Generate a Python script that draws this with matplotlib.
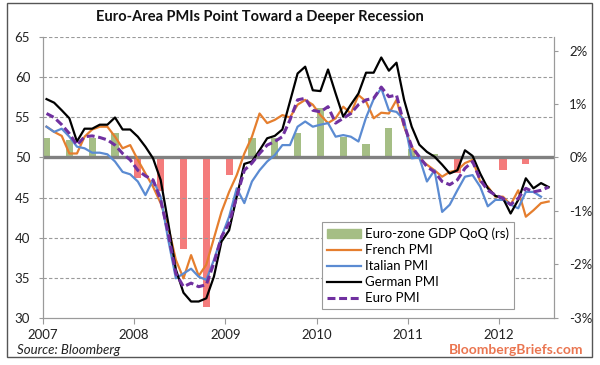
import numpy as np
import matplotlib.pyplot as plt
from matplotlib.patches import Rectangle, Patch
from matplotlib.lines import Line2D

plt.rcParams['font.family'] = ['Lato', 'DejaVu Sans']

# monthly PMI readings, Jan 2007 - Jul 2012
years = ['2007', '2008', '2009', '2010', '2011', '2012']

german = [57.3, 56.85, 55.9, 54.9, 52.0, 53.6, 53.6, 54.1, 54.1, 55.0, 53.5, 53.5,
          52.6, 51.35, 49.9, 47.2, 41.8, 36.0, 33.1, 32.0, 32.0, 32.4, 35.1, 39.5,
          40.9, 45.1, 49.2, 49.5, 50.9, 52.4, 52.7, 53.5, 57.0, 60.5, 61.35, 58.4,
          58.3, 61.0, 58.0, 55.1, 56.6, 58.0, 60.6, 60.6, 62.5, 60.85, 61.85, 57.2,
          53.85, 51.6, 50.7, 50.1, 49.1, 48.0, 48.4, 50.9, 50.2, 48.0, 46.15, 45.2,
          44.9, 43.0, 44.7, 47.4, 46.15, 46.8, 46.3]
french = [53.85, 53.2, 52.7, 50.5, 50.5, 52.6, 53.5, 53.85, 53.85, 52.6, 51.15, 51.55,
          49.7, 48.0, 46.35, 44.3, 41.35, 37.2, 34.9, 37.8, 35.2, 36.6, 39.9, 43.2,
          45.7, 47.8, 50.5, 52.6, 55.5, 54.3, 54.7, 55.3, 55.0, 56.6, 57.2, 56.6,
          55.3, 54.3, 54.9, 56.35, 55.5, 57.8, 57.0, 54.9, 55.6, 55.5, 57.2, 53.85,
          51.35, 49.9, 49.1, 48.4, 47.6, 48.2, 48.4, 49.3, 49.7, 47.0, 46.35, 45.1,
          45.1, 44.1, 45.9, 42.6, 43.4, 44.3, 44.5]
italian = [53.85, 53.2, 53.6, 52.6, 51.35, 51.15, 50.6, 50.6, 50.4, 49.5, 48.2, 47.9,
           47.0, 45.3, 47.2, 45.1, 39.7, 34.9, 35.5, 36.1, 35.1, 34.7, 37.2, 40.1,
           42.6, 46.15, 44.3, 47.0, 48.4, 49.5, 50.3, 51.55, 51.55, 53.85, 54.5, 53.85,
           54.1, 54.3, 52.6, 52.8, 52.6, 52.0, 55.0, 57.3, 58.65, 55.9, 55.7, 54.7,
           49.9, 50.0, 47.0, 48.4, 43.2, 44.1, 45.9, 47.6, 47.8, 46.35, 43.9, 44.7,
           44.7, 44.1, 43.65, 45.7, 45.7, 45.1]
euro = [55.5, 55.0, 54.1, 53.0, 51.55, 52.6, 52.7, 52.5, 52.2, 51.55, 50.5, 49.7,
        48.4, 47.7, 47.2, 44.7, 40.5, 35.5, 33.85, 34.3, 33.85, 34.1, 36.8, 40.1,
        41.8, 45.1, 48.4, 49.3, 50.5, 51.55, 52.0, 52.6, 54.7, 57.2, 57.4, 55.9,
        55.7, 56.35, 54.3, 54.9, 55.5, 56.6, 57.2, 57.4, 58.8, 57.6, 57.8, 54.1,
        51.35, 50.1, 48.85, 48.2, 47.0, 46.6, 47.2, 48.65, 49.5, 47.2, 45.9, 45.3,
        44.9, 44.1, 44.9, 46.15, 45.7, 45.9, 46.3]

# euro-zone GDP, % QoQ, one bar every 3 months
gdp = [0.36, 0.32, 0.36, 0.45, -0.38, -0.62, -1.72, -2.81, -0.33, 0.36, 0.36,
       0.46, 0.93, 0.38, 0.25, 0.56, 0.15, 0.06, -0.30, 0.0, -0.24, -0.12]

GREEN = '#A5BE85'
RED = '#F47C7C'
ORANGE = '#E57E2E'
BLUE = '#5B8BD2'
PURPLE = '#7030A0'
DASH = (0, (2.6, 1.2))

fig = plt.figure(figsize=(6, 3.65), dpi=100)
ax = fig.add_axes([0.0712, 0.1301, 0.8521, 0.7672])
ax2 = ax.twinx()
ax.set_zorder(ax2.get_zorder() + 1)
ax.patch.set_visible(False)

# bars on right axis
bx = np.arange(len(gdp)) * 3 + 0.5
bcol = [GREEN if v >= 0 else RED for v in gdp]
ax2.bar(bx, gdp, width=0.95, color=bcol, zorder=1)
ax2.set_ylim(-3, 2.25)
ax2.set_yticks([-3, -2, -1, 0, 1, 2])
ax2.set_yticklabels(['-3%', '-2%', '-1%', '0%', '1%', '2%'])

# grid and zero line
for v in [35, 40, 45, 55, 60, 65]:
    ax.axhline(v, color='#9A9A9A', lw=0.8, ls=(0, (3, 2)), zorder=1)
ax.axhline(50, color='#808080', lw=2.4, zorder=2)

def xs(series):
    return np.arange(len(series)) + 0.5

ax.plot(xs(french), french, color=ORANGE, lw=1.6, zorder=3)
ax.plot(xs(italian), italian, color=BLUE, lw=1.6, zorder=3)
ax.plot(xs(german), german, color='black', lw=1.6, zorder=4)
ax.plot(xs(euro), euro, color=PURPLE, lw=2.2, ls=DASH, zorder=5)

ax.set_xlim(0, 67.2)
ax.set_ylim(30, 65)
ax.set_yticks([30, 35, 40, 45, 50, 55, 60, 65])
ax.set_xticks(np.arange(len(years)) * 12)
ax.set_xticklabels(years)

for a in (ax, ax2):
    for s in a.spines.values():
        s.set_color('#9A9A9A')
        s.set_linewidth(0.8)
    a.spines['top'].set_visible(False)
    a.tick_params(colors='#9A9A9A', labelcolor='#222222', labelsize=9.5, length=3, width=0.8)
ax.tick_params(axis='y', pad=6)
ax.tick_params(axis='x', pad=4, length=4)
ax2.tick_params(axis='y', pad=8)

handles = [Patch(color=GREEN),
           Line2D([], [], color=ORANGE, lw=1.6),
           Line2D([], [], color=BLUE, lw=1.6),
           Line2D([], [], color='black', lw=1.6),
           Line2D([], [], color=PURPLE, lw=2.2, ls=DASH)]
labels = ['Euro-zone GDP QoQ (rs)', 'French PMI', 'Italian PMI', 'German PMI', 'Euro PMI']
leg = ax.legend(handles, labels, loc='lower left', bbox_to_anchor=(0.5457, 0.029),
                borderaxespad=0, fontsize=9.5, handlelength=2.6, handleheight=0.6,
                handletextpad=0.25, labelspacing=0.3, borderpad=0.4,
                fancybox=False, framealpha=1, edgecolor='#9A9A9A')
leg.get_frame().set_linewidth(0.8)

fig.text(0.433, 0.953, 'Euro-Area PMIs Point Toward a Deeper Recession',
         ha='center', va='center', fontsize=10.5, fontweight='bold', color='#111111')
fig.text(0.028, 0.041, 'Source: Bloomberg', ha='left', va='center',
         fontsize=9.5, style='italic', color='#222222')
fig.text(0.972, 0.041, 'BloombergBriefs.com', ha='right', va='center',
         fontsize=10, fontweight='bold', color='#EA7550')

fig.patches.append(Rectangle((0.012, 0.022), 0.975, 0.97, transform=fig.transFigure,
                             fill=False, edgecolor='#555555', lw=1))

fig.savefig('out.png', dpi=100)
